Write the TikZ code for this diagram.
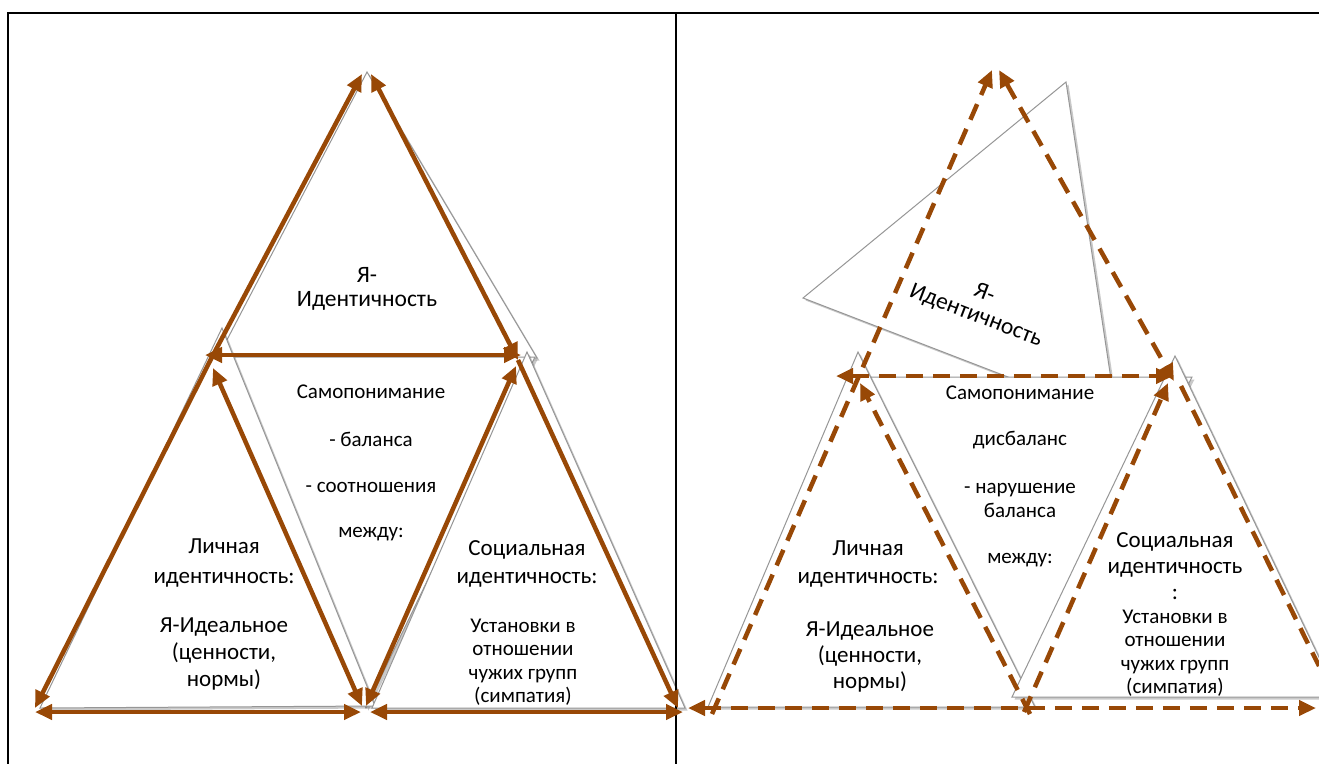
\documentclass[tikz,border=0pt]{standalone}
\usepackage{fontspec}
\setmainfont{Carlito}
\usetikzlibrary{arrows.meta,shadows}
\definecolor{brn}{RGB}{152,72,6}
\definecolor{trigray}{RGB}{150,150,150}
\begin{document}
\begin{tikzpicture}[x=1pt,y=-1pt,
  tribox/.style={draw=trigray, line width=1pt, fill=white,
     drop shadow={shadow xshift=2.5pt, shadow yshift=-2.5pt, opacity=0.3, fill=black!70}},
  frameline/.style={draw=black, line width=1.6pt},
  bline/.style={draw=brn, line width=4.5pt},
  dline/.style={draw=brn, line width=4.5pt, dash pattern=on 17pt off 10pt},
  onehead/.style={-{Triangle[length=17pt,width=15pt]}},
  twohead/.style={{Triangle[length=17pt,width=15pt]}-{Triangle[length=17pt,width=15pt]}},
  bigtxt/.style={font=\fontsize{23}{28}\selectfont, align=center, inner sep=0pt},
  midtxt/.style={font=\fontsize{21}{24}\selectfont, align=center, inner sep=0pt},
  smalltxt/.style={font=\fontsize{21}{23.5}\selectfont, align=center, inner sep=0pt}
]
\useasboundingbox (0,0) rectangle (1319,764);

% ---------- left panel: gray triangles ----------
\path[tribox] (367,72) -- (218,357) -- (537,358) -- cycle;
\path[tribox] (215,357) -- (535,357) -- (366,708) -- cycle;
\path[tribox] (222,328) -- (40,708) -- (375,706) -- cycle;
\path[tribox] (527,352) -- (372,708) -- (685,708) -- cycle;

% ---------- right panel: gray triangles ----------
\path[tribox] (1066,82) -- (803,298) -- (1117,419) -- cycle;
\path[tribox] (850,377) -- (1192,377) -- (1022,706) -- cycle;
\path[tribox] (858,352) -- (708,707) -- (1035,707) -- cycle;
\path[tribox] (1175,356) -- (1012,697) -- (1338,697) -- cycle;

% ---------- frame ----------
\coordinate (F1) at (7,13);
\coordinate (F2) at (1319,13);
\coordinate (F0) at (8,13);
\coordinate (F3) at (8,764);
\coordinate (F4) at (676,13);
\coordinate (F5) at (676,764);
\draw[frameline, line width=2pt] (F1) -- (F2);
\draw[frameline] (F0) -- (F3);
\draw[frameline] (F4) -- (F5);

% ---------- left panel coordinates ----------
\coordinate (LA1) at (362,74);
\coordinate (LA2) at (371,74);
\coordinate (LJ) at (212,357);
\coordinate (RJ) at (518,360);
\coordinate (LH1) at (205,355);
\coordinate (LH2) at (521,355);
\coordinate (LBL) at (35,708);
\coordinate (LBR) at (678,708);
\coordinate (LJi) at (213,368);
\coordinate (RJi) at (516,366);
\coordinate (LM1) at (362,706);
\coordinate (LM2) at (366,706);
\coordinate (LB1) at (35,712);
\coordinate (LB2) at (361,712);
\coordinate (LB3) at (370,712);
\coordinate (LB4) at (683,712);

\draw[bline, onehead] (LJ) -- (LA1);
\draw[bline, onehead] (LJ) -- (LBL);
\draw[bline, twohead] (LA2) -- (RJ);
\draw[bline, onehead] (RJ) -- (LBR);
\draw[bline, twohead] (LM1) -- (LJi);
\draw[bline, twohead] (LM2) -- (RJi);
\draw[bline, twohead] (LH1) -- (LH2);
\draw[bline, twohead] (LB1) -- (LB2);
\draw[bline, twohead] (LB3) -- (LB4);

% ---------- right panel coordinates ----------
\coordinate (RA1) at (992,70);
\coordinate (RA2) at (999,70);
\coordinate (RBL) at (712,714);
\coordinate (RRJ) at (1174,381);
\coordinate (RH1) at (836,376);
\coordinate (RH2) at (1173,376);
\coordinate (RLt) at (860,383);
\coordinate (RLb) at (1030,714);
\coordinate (RRt) at (1168,383);
\coordinate (RRb) at (1024,712);
\coordinate (RO1) at (1181,386);
\coordinate (RO2) at (1319,666);
\coordinate (RB1) at (688,708);
\coordinate (RB2) at (1316,708);

\draw[dline, onehead] (RBL) -- (RA1);
\draw[dline, twohead] (RA2) -- (RRJ);
\draw[dline, twohead] (RH1) -- (RH2);
\draw[dline, onehead] (RLb) -- (RLt);
\draw[dline, onehead] (RRb) -- (RRt);
\draw[dline] (RO1) -- (RO2);
\draw[dline, twohead] (RB1) -- (RB2);

% ---------- left panel texts ----------
\node[bigtxt, font=\fontsize{23.5}{24}\selectfont] (tI) at (367,289) {Я-\\Идентичность};
\node[midtxt] (tS1) at (371,392) {Самопонимание};
\node[midtxt] (tS2) at (371,439) {- баланса};
\node[midtxt] (tS3) at (371,487) {- соотношения};
\node[midtxt] (tS4) at (371,534) {между:};
\node[bigtxt, font=\fontsize{23}{30}\selectfont] (tP1) at (224,563) {Личная\\идентичность:};
\node[bigtxt, font=\fontsize{23}{27}\selectfont] (tP2) at (224,654) {Я-Идеальное\\(ценности,\\нормы)};
\node[bigtxt, font=\fontsize{23}{28}\selectfont] (tC1) at (527,564) {Социальная\\идентичность:};
\node[smalltxt] (tC2) at (523,662) {Установки в\\отношении\\чужих групп\\(симпатия)};

% ---------- right panel texts ----------
\node[bigtxt, font=\fontsize{23.5}{24}\selectfont, rotate=-21] (rI) at (980,305) {Я-\\Идентичность};
\node[midtxt] (rS1) at (1020,393) {Самопонимание};
\node[midtxt] (rS2) at (1020,440) {дисбаланс};
\node[midtxt] (rS3) at (1020,500) {- нарушение\\баланса};
\node[midtxt] (rS4) at (1020,560) {между:};
\node[bigtxt, font=\fontsize{23}{28}\selectfont] (rP1) at (868,564) {Личная\\идентичность:};
\node[bigtxt, font=\fontsize{23}{26}\selectfont] (rP2) at (870,657) {Я-Идеальное\\(ценности,\\нормы)};
\node[bigtxt, font=\fontsize{23}{26}\selectfont] (rC1) at (1175,566) {Социальная\\идентичность\\:};
\node[smalltxt] (rC2) at (1175,653) {Установки в\\отношении\\чужих групп\\(симпатия)};
\end{tikzpicture}
\end{document}
